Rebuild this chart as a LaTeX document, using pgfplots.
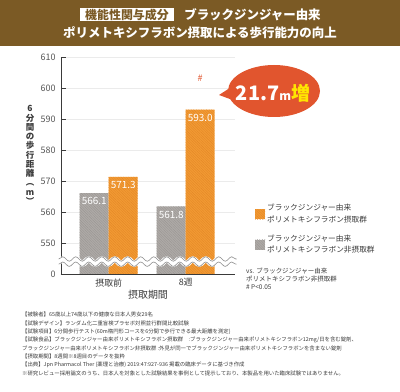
\documentclass[border=0pt]{standalone}
\usepackage{fontspec}
\setmainfont{Noto Sans CJK JP}
\usepackage{pgfplots}
\pgfplotsset{compat=1.18}
\usetikzlibrary{decorations.pathmorphing,patterns.meta}
\definecolor{banner}{HTML}{7B5A25}
\definecolor{barorange}{HTML}{F29A33}
\definecolor{hatchorange}{HTML}{E38727}
\definecolor{bargray}{HTML}{AEAAA7}
\definecolor{hatchgray}{HTML}{9A9693}
\definecolor{callout}{HTML}{E1552E}
\definecolor{yel}{HTML}{FFE600}
\definecolor{txt}{HTML}{3A3A3A}
\definecolor{ticktxt}{HTML}{555555}
\pgfkeys{/pgf/number format/assume math mode=true}
\begin{document}
\begin{tikzpicture}[x=1bp,y=1bp]
\path[use as bounding box] (0,0) rectangle (400,392);
% banner
\fill[banner] (0,346) rectangle (400,392);
\fill[white] (80,371) rectangle (174,384);
\node[text=banner, font=\bfseries\fontsize{12}{12}\selectfont, inner sep=0] at (127,377.5) {機能性関与成分};
\node[text=white, font=\bfseries\fontsize{12.5}{12.5}\selectfont, inner sep=0] at (252.5,377.5) {ブラックジンジャー由来};
\node[text=white, font=\bfseries\fontsize{12.5}{12.5}\selectfont, inner sep=0] at (200,359) {ポリメトキシフラボン摂取による歩行能力の向上};
% y label
\node[align=center, text=txt, font=\bfseries\fontsize{8.5}{9.3}\selectfont, inner sep=0] at (30,237) {6\\分\\間\\の\\歩\\行\\距\\離\\︵\\m\\︶};
\begin{axis}[
  at={(61bp,118bp)}, anchor=south west,
  scale only axis, width=174bp, height=217bp,
  xmin=-0.62, xmax=1.64, ymin=540, ymax=610,
  axis x line*=bottom, axis y line*=left,
  axis line style={draw=txt, line width=0.8bp},
  ytick={540,550,560,570,580,590,600,610},
  yticklabels={0,550,560,570,580,590,600,610},
  xtick={0,1}, xticklabels={摂取前,8週},
  major tick length=5bp, tick align=inside,
  xtick style={draw=none},
  ytick style={draw=txt, line width=0.8bp},
  yticklabel style={font=\fontsize{9}{9}\selectfont, text=ticktxt, xshift=-2bp},
  xticklabel style={font=\fontsize{9}{9}\selectfont, text=txt, yshift=4bp},
  ymajorgrids, grid style={draw=black!8, line width=0.6bp},
  xlabel={摂取期間},
  xlabel style={font=\fontsize{10}{10}\selectfont, text=txt, at={(axis description cs:0.5,0)}, anchor=center, yshift=-21bp},
  ybar=0pt, bar width=29bp,
  clip=false,
  nodes near coords={\pgfmathprintnumber[fixed,fixed zerofill,precision=1]{\pgfplotspointmeta}},
  nodes near coords style={anchor=north, text=white, font=\fontsize{10}{10}\selectfont, yshift=-1bp},
  reverse legend,
  legend style={at={(1.098,0.34)}, anchor=north west, draw=none, fill=none,
    font=\fontsize{7.7}{11.5}\selectfont, text=txt, row sep=7bp,
    cells={align=left}},
  legend cell align=left,
]
\addplot[fill=bargray, draw=none,
  postaction={pattern={Lines[angle=-45,distance=1.8bp,line width=0.4bp]}, pattern color=hatchgray},
  legend image code/.code={\fill[bargray] (0bp,-5bp) rectangle (10bp,5bp);}]
  coordinates {(0,566.1) (1,561.8)};
\addlegendentry{ブラックジンジャー由来\\ポリメトキシフラボン非摂取群}
\addplot[fill=barorange, draw=none,
  postaction={pattern={Lines[angle=-45,distance=1.8bp,line width=0.4bp]}, pattern color=hatchorange},
  legend image code/.code={\fill[barorange] (0bp,-5bp) rectangle (10bp,5bp);}]
  coordinates {(0,571.3) (1,593.0)};
\addlegendentry{ブラックジンジャー由来\\ポリメトキシフラボン摂取群}
% axis break
\draw[white, line width=6bp, decorate, decoration={snake, segment length=13bp, amplitude=2.2bp}]
  (axis cs:-0.65,544) -- (axis cs:1.66,544);
\draw[black!45, line width=0.6bp, decorate, decoration={snake, segment length=13bp, amplitude=2.2bp}]
  ([yshift=2.6bp]axis cs:-0.65,544) -- ([yshift=2.6bp]axis cs:1.66,544);
\draw[black!45, line width=0.6bp, decorate, decoration={snake, segment length=13bp, amplitude=2.2bp}]
  ([yshift=-2.6bp]axis cs:-0.65,544) -- ([yshift=-2.6bp]axis cs:1.66,544);
\node[text=callout, font=\fontsize{9}{9}\selectfont, xshift=14.5bp] at (axis cs:1,603) {\#};
\end{axis}
% callout
\fill[callout] (219,297) -- (236,308) -- (238,290) -- cycle;
\fill[callout] (274,301) ellipse [x radius=46, y radius=26];
\node[inner sep=0] at (273,299) {\bfseries\fontsize{20}{20}\selectfont\textcolor{white}{21.7}\fontsize{12}{12}\selectfont\textcolor{white}{m}\fontsize{19}{19}\selectfont\textcolor{yel}{増}};
% significance note
\node[anchor=north west, align=left, inner sep=0, text=txt, font=\fontsize{6.5}{8}\selectfont] at (246,124) {vs. ブラックジンジャー由来\\ポリメトキシフラボン非摂取群\\\# P<0.05};
% footnotes
\node[anchor=north west, align=left, inner sep=0, text=txt, font=\fontsize{5.4}{8.4}\selectfont] at (22,80) {%
【被験者】65歳以上74歳以下の健康な日本人男女29名\\
【試験デザイン】ランダム化二重盲検プラセボ対照並行群間比較試験\\
【試験項目】6分間歩行テスト(60m楕円形コースを6分間で歩行できる最大距離を測定)\\
【試験食品】ブラックジンジャー由来ポリメトキシフラボン摂取群　:ブラックジンジャー由来ポリメトキシフラボン12mg/日を含む錠剤、\\
ブラックジンジャー由来ポリメトキシフラボン非摂取群 :外見が同一でブラックジンジャー由来ポリメトキシフラボンを含まない錠剤\\
【摂取期間】8週間※8週目のデータを抜粋\\
【出典】Jpn Pharmacol Ther (薬理と治療) 2019:47:927-936 掲載の臨床データに基づき作成\\
※研究レビュー採用論文のうち、日本人を対象とした試験結果を事例として提示しており、本製品を用いた臨床試験ではありません。};
\end{tikzpicture}
\end{document}
